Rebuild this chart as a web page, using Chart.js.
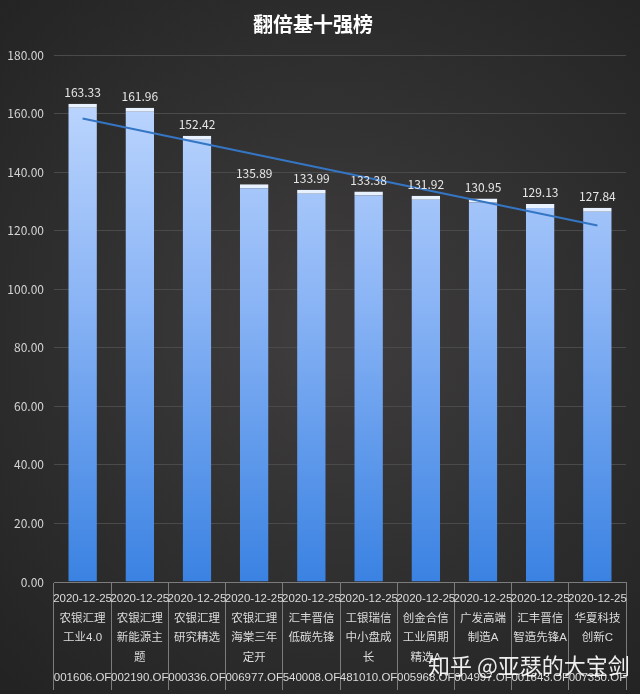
<!DOCTYPE html>
<html>
<head>
<meta charset="utf-8">
<script src="https://cdn.jsdelivr.net/npm/chart.js@4/dist/chart.umd.min.js"></script>
<style>
  html, body { margin: 0; padding: 0; background: #2a2a2a; }
  #wrap { width: 640px; height: 694px; }
</style>
</head>
<body>
<div id="wrap"><canvas id="fundChart" width="640" height="694"></canvas></div>
<script>
const dates = ['2020-12-25', '2020-12-25', '2020-12-25', '2020-12-25', '2020-12-25',
    '2020-12-25', '2020-12-25', '2020-12-25', '2020-12-25', '2020-12-25'];
const names = [
    ['农银汇理', '工业4.0'],
    ['农银汇理', '新能源主', '题'],
    ['农银汇理', '研究精选'],
    ['农银汇理', '海棠三年', '定开'],
    ['汇丰晋信', '低碳先锋'],
    ['工银瑞信', '中小盘成', '长'],
    ['创金合信', '工业周期', '精选A'],
    ['广发高端', '制造A'],
    ['汇丰晋信', '智造先锋A'],
    ['华夏科技', '创新C']
];
const codes = ['001606.OF', '002190.OF', '000336.OF', '006977.OF', '540008.OF',
    '481010.OF', '005968.OF', '004997.OF', '001643.OF', '007350.OF'];
const navValues = [163.33, 161.96, 152.42, 135.89, 133.99, 133.38, 131.92, 130.95, 129.13, 127.84];
// trend line (start / end)
const trendValues = [158.3, null, null, null, null, null, null, null, null, 121.8];
const yTicks = [0, 20, 40, 60, 80, 100, 120, 140, 160, 180];

// every label: date, up to 3 name lines, code
const labels = dates.map((d, i) => {
    const n = names[i].slice();
    while (n.length < 3) n.push('');
    return [d, ...n, codes[i]];
});

const cjk = '"Noto Sans CJK SC", "Noto Sans", sans-serif';
const tickFamily = '"Liberation Sans", "Noto Sans CJK SC", sans-serif';

// background
const bgPlugin = {
    id: 'bg',
    beforeDraw(chart) {
        const c = chart.ctx;
        const g = c.createRadialGradient(330, 330, 40, 330, 330, 480);
        g.addColorStop(0, '#3d3b3b');
        g.addColorStop(1, '#232323');
        c.save();
        c.fillStyle = g;
        c.fillRect(0, 0, chart.width, chart.height);
        c.restore();
    }
};

// value labels above bars + watermark
const valuePlugin = {
    id: 'values',
    afterDatasetsDraw(chart) {
        const c = chart.ctx;
        const meta = chart.getDatasetMeta(0);
        c.save();
        c.font = '12px ' + cjk;
        c.fillStyle = '#e6e6e6';
        c.textAlign = 'center';
        c.textBaseline = 'bottom';
        meta.data.forEach((bar, i) => {
            c.fillText(navValues[i].toFixed(2), bar.x, bar.y - 5);
        });
        c.restore();
    },
    afterDraw(chart) {
        const c = chart.ctx;
        c.save();
        c.font = '22px ' + cjk;
        c.fillStyle = 'rgba(255,255,255,0.92)';
        c.textAlign = 'left';
        c.textBaseline = 'middle';
        c.fillText('知乎 @亚瑟的大宝剑', 428, 666);
        c.restore();
    }
};

function barFill(context) {
    const area = context.chart.chartArea;
    if (!area) return '#7aa8f0';
    const g = context.chart.ctx.createLinearGradient(0, area.top, 0, area.bottom);
    g.addColorStop(0, '#c6dcff');
    g.addColorStop(0.45, '#8db6f6');
    g.addColorStop(1, '#3a82e2');
    return g;
}

const ctx = document.getElementById('fundChart').getContext('2d');
const fundChart = new Chart(ctx, {
    type: 'bar',
    data: {
        labels: labels,
        datasets: [{
            type: 'bar',
            data: navValues,
            backgroundColor: barFill,
            borderColor: '#e8f1ff',
            borderWidth: { top: 4, left: 0, right: 0, bottom: 0 },
            borderSkipped: false,
            categoryPercentage: 1,
            barPercentage: 0.5,
            order: 1
        }, {
            type: 'line',
            data: trendValues,
            spanGaps: true,
            borderColor: '#3576c4',
            borderWidth: 2,
            pointRadius: 0,
            fill: false,
            order: 0
        }]
    },
    options: {
        responsive: false,
        animation: false,
        layout: { padding: { left: 0, right: 14, top: 0, bottom: 0 } },
        plugins: {
            legend: { display: false },
            tooltip: { enabled: false },
            title: {
                display: true,
                text: '翻倍基十强榜',
                color: '#ffffff',
                font: { family: cjk, size: 20, weight: 'bold', lineHeight: 1.2 },
                padding: { top: 12, bottom: 19 }
            }
        },
        scales: {
            x: {
                offset: true,
                grid: {
                    offset: true,
                    drawOnChartArea: false,
                    drawTicks: true,
                    tickLength: 108,
                    color: '#7c7c7c'
                },
                border: { display: true, color: '#7c7c7c' },
                ticks: {
                    autoSkip: false,
                    maxRotation: 0,
                    minRotation: 0,
                    padding: -101,
                    color: '#dcdcdc',
                    font: { family: tickFamily, size: 11.5, lineHeight: 1.71 }
                },
                afterFit(scale) { scale.height = 112; }
            },
            y: {
                min: 0,
                max: 180,
                afterBuildTicks(scale) { scale.ticks = yTicks.map(v => ({ value: v })); },
                grid: { color: '#4b4a4a', drawTicks: false },
                border: { display: false },
                ticks: {
                    padding: 10,
                    color: '#d4d4d4',
                    font: { family: cjk, size: 12 },
                    callback: v => Number(v).toFixed(2)
                },
                afterFit(scale) { scale.width = 54; }
            }
        }
    },
    plugins: [bgPlugin, valuePlugin]
});
</script>
</body>
</html>
